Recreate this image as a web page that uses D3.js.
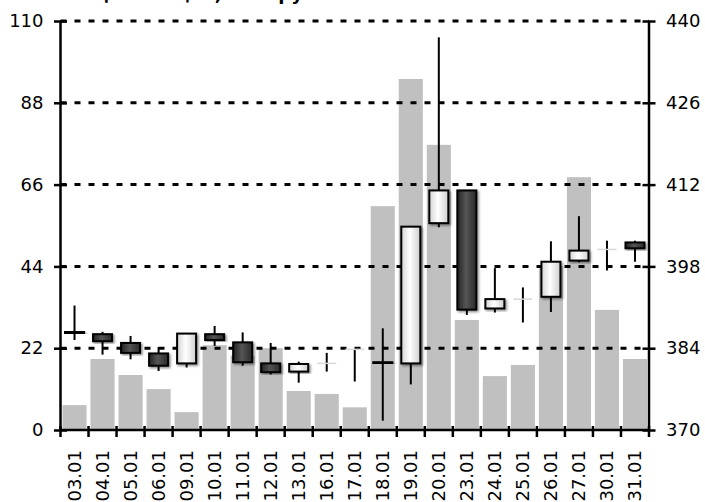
<!DOCTYPE html>
<html>
<head>
<meta charset="utf-8">
<script src="https://cdn.jsdelivr.net/npm/d3@7"></script>
<style>
  html, body { margin: 0; padding: 0; background: #fff; }
  svg { display: block; font-family: "DejaVu Sans", Verdana, sans-serif; }
</style>
</head>
<body>
<div id="chart"></div>
<script>
  // trading days
  var dates = ['03.01','04.01','05.01','06.01','09.01','10.01','11.01','12.01','13.01','16.01',
               '17.01','18.01','19.01','20.01','23.01','24.01','25.01','26.01','27.01','30.01','31.01']

  // volume (left axis)
  var volume = [6.7, 19.1, 14.8, 11.0, 4.8, 22.8, 20.0, 22.0, 10.5, 9.7,
                6.1, 60.2, 94.4, 76.7, 29.6, 14.5, 17.5, 44.0, 68.0, 32.3, 19.1]

  // price OHLC (right axis)
  var open  = [386.8, 386.4, 384.9, 383.1, 381.4, 386.4, 385.0, 381.4, 380.0, 381.4,
               383.8, 381.6, 381.4, 405.4, 411.0, 390.8, 392.4, 392.8, 399.0, 400.9, 402.1]
  var high  = [391.3, 386.8, 386.1, 384.2, 386.6, 387.8, 386.7, 384.9, 381.7, 383.2,
               383.8, 387.4, 404.8, 437.2, 411.0, 397.7, 394.4, 402.3, 406.6, 402.4, 402.4]
  var low   = [385.4, 382.9, 382.1, 380.1, 380.7, 384.4, 381.0, 379.5, 378.1, 380.0,
               378.3, 371.6, 377.8, 404.7, 389.7, 390.1, 388.4, 390.2, 398.7, 397.3, 398.8]
  var close = [386.6, 385.2, 383.2, 381.0, 386.5, 385.4, 381.6, 379.9, 381.3, 381.4,
               383.8, 381.4, 404.8, 411.0, 390.6, 392.4, 392.4, 398.8, 400.7, 400.9, 401.1]

  var volTicks = [0, 22, 44, 66, 88, 110]
  var priceTicks = [370, 384, 398, 412, 426, 440]

  var W = 705, H = 502
  var plotL = 60.5, plotR = 649, plotT = 21, plotB = 430

  var svg = d3.select('#chart').append('svg')
      .attr('width', W)
      .attr('height', H)

  var defs = svg.append('defs')

  var gUp = defs.append('linearGradient').attr('id', 'gUp')
  gUp.append('stop').attr('offset', '0%').attr('stop-color', '#d4d4d4')
  gUp.append('stop').attr('offset', '45%').attr('stop-color', '#ffffff')
  gUp.append('stop').attr('offset', '100%').attr('stop-color', '#cfcfcf')

  var gDown = defs.append('linearGradient').attr('id', 'gDown')
  gDown.append('stop').attr('offset', '0%').attr('stop-color', '#222')
  gDown.append('stop').attr('offset', '45%').attr('stop-color', '#555')
  gDown.append('stop').attr('offset', '100%').attr('stop-color', '#2a2a2a')

  defs.append('filter').attr('id', 'shadow')
      .attr('x', '-30%').attr('y', '-30%').attr('width', '160%').attr('height', '160%')
    .append('feDropShadow')
      .attr('dx', 1.5).attr('dy', 1.5).attr('stdDeviation', 0.8)
      .attr('flood-color', '#000').attr('flood-opacity', 0.45)

  var x = d3.scaleBand()
      .domain(dates)
      .range([plotL, plotR])
      .paddingInner(0.14)
      .paddingOuter(0.07)

  var yVol = d3.scaleLinear().domain([0, 110]).range([plotB, plotT])
  var yPrice = d3.scaleLinear().domain([370, 440]).range([plotB, plotT])

  var rows = dates.map(function(d, i) {
    return { date: d, vol: volume[i], o: open[i], h: high[i], l: low[i], c: close[i] }
  })

  // title (mostly outside the visible area)
  svg.append('text')
      .attr('x', 92)
      .attr('y', 0)
      .attr('font-weight', 'bold')
      .attr('font-size', 18)
      .text('Цена акций, тыс. руб.')

  // volume bars
  svg.append('g').selectAll('rect')
      .data(rows)
    .enter().append('rect')
      .attr('x', function(d) { return x(d.date) })
      .attr('width', x.bandwidth())
      .attr('y', function(d) { return yVol(d.vol) })
      .attr('height', function(d) { return plotB - yVol(d.vol) })
      .attr('fill', '#c0c0c0')

  // dashed grid
  svg.append('g').selectAll('line')
      .data(volTicks.slice(1))
    .enter().append('line')
      .attr('x1', plotL).attr('x2', plotR)
      .attr('y1', function(d) { return yVol(d) })
      .attr('y2', function(d) { return yVol(d) })
      .attr('stroke', '#000')
      .attr('stroke-width', 3)
      .attr('stroke-dasharray', '6,8')

  // candles
  var cx = function(d) { return x(d.date) + x.bandwidth() / 2 }
  var bw = 19
  var candles = svg.append('g').selectAll('g')
      .data(rows)
    .enter().append('g')

  candles.append('line')
      .attr('x1', cx).attr('x2', cx)
      .attr('y1', function(d) { return yPrice(d.h) })
      .attr('y2', function(d) { return yPrice(d.l) })
      .attr('stroke', '#000')
      .attr('stroke-width', 2)

  candles.filter(function(d) { return d.o !== d.c })
    .append('rect')
      .attr('x', function(d) { return cx(d) - bw / 2 })
      .attr('width', bw)
      .attr('y', function(d) { return yPrice(Math.max(d.o, d.c)) })
      .attr('height', function(d) { return Math.abs(yPrice(d.o) - yPrice(d.c)) })
      .attr('fill', function(d) { return d.c > d.o ? 'url(#gUp)' : 'url(#gDown)' })
      .attr('stroke', '#000')
      .attr('stroke-width', 2)
      .attr('filter', 'url(#shadow)')

  candles.filter(function(d) { return d.o === d.c })
    .append('line')
      .attr('x1', function(d) { return cx(d) - bw / 2 })
      .attr('x2', function(d) { return cx(d) + bw / 2 })
      .attr('y1', function(d) { return yPrice(d.o) })
      .attr('y2', function(d) { return yPrice(d.o) })
      .attr('stroke', '#d8d8d8')
      .attr('stroke-width', 1.5)

  // axes
  var axisLeft = d3.axisLeft(yVol).tickValues(volTicks).tickSize(6).tickPadding(11)
  var axisRight = d3.axisRight(yPrice).tickValues(priceTicks).tickSize(6).tickPadding(11)

  var gl = svg.append('g').attr('transform', 'translate(' + plotL + ',0)').call(axisLeft)
  var gr = svg.append('g').attr('transform', 'translate(' + plotR + ',0)').call(axisRight)

  ;[gl, gr].forEach(function(g) {
    g.select('.domain').attr('d', 'M0,' + plotT + 'V' + plotB).attr('stroke-width', 2.5)
    g.selectAll('.tick line').attr('x1', -6.5).attr('x2', 6.5).attr('stroke-width', 2.5)
    g.selectAll('.tick text').attr('font-size', 18).attr('font-family', '"DejaVu Sans", Verdana, sans-serif')
  })

  var gb = svg.append('g').attr('transform', 'translate(0,' + plotB + ')')
  gb.append('line')
      .attr('x1', plotL).attr('x2', plotR)
      .attr('stroke', '#000').attr('stroke-width', 2.5)
  gb.selectAll('line.tk')
      .data(d3.range(dates.length + 1))
    .enter().append('line')
      .attr('class', 'tk')
      .attr('x1', function(i) { return plotL + i * x.step() })
      .attr('x2', function(i) { return plotL + i * x.step() })
      .attr('y1', -4).attr('y2', 7)
      .attr('stroke', '#000').attr('stroke-width', 2.5)
  gb.selectAll('text')
      .data(dates)
    .enter().append('text')
      .attr('transform', function(d) {
        return 'translate(' + (x(d) + x.bandwidth() / 2) + ',20) rotate(-90)'
      })
      .attr('text-anchor', 'end')
      .attr('dy', '0.35em')
      .attr('font-size', 18)
      .text(function(d) { return d })
</script>
</body>
</html>
